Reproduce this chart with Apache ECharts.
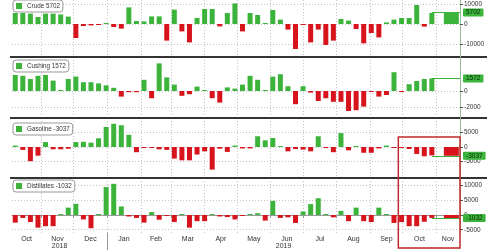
<!DOCTYPE html>
<html><head><meta charset="utf-8">
<script src="https://cdn.jsdelivr.net/npm/echarts@6/dist/echarts.min.js"></script>
<style>html,body{margin:0;padding:0;background:#fff}#c{width:500px;height:250px}</style>
</head><body><div id="c"></div>
<script>
// ---- data (weekly inventory changes, thousand barrels) ----
const crude = [5500,5500,5200,3500,5200,5200,4800,3700,-7000,-1000,-700,-300,100,-1500,-2300,8300,1500,1300,3800,3800,
  -8300,7200,-3700,-9200,3000,7500,7500,-1200,5500,10300,-3700,5500,4500,300,7000,2200,-2800,-12500,-500,-9200,
  -2800,-10500,-8300,2500,1700,-2500,-9700,-4500,-6700,800,2200,3000,3000,9500,-1300,5500];
const cushing = [2000,1900,1500,1900,2000,1300,100,1500,1800,1100,1100,950,700,400,-700,-150,-150,1400,-900,3450,
  1700,800,-600,-400,550,100,-900,-1450,450,300,800,1900,1400,50,1800,2100,600,-1650,600,-200,
  -1250,-900,-1350,-1350,-2500,-2400,-1950,-100,-700,-500,2350,-100,850,1250,1500,1572];
const gasoline = [500,-1000,-4900,-3000,1700,-800,-800,-600,1700,1800,1500,3000,6900,8000,7500,4200,-1800,-200,-200,-800,
  -1000,-4000,-4600,-4600,-2600,-1500,-7800,-600,-1700,500,-500,-500,3700,2300,3100,300,-1500,-700,-900,-1500,
  3700,-200,-1800,4800,-1150,200,-2000,-2000,-500,500,-200,-200,-700,-2400,-3200,-2900];
const distillates = [-2600,-1000,-2400,-4300,-3800,-3800,100,2500,3800,-1500,-4500,0,9500,10600,2900,-500,-1000,-2600,1000,-1600,
  -100,-2400,100,-4300,-2100,-2100,0,-500,-700,-1500,-100,0,600,-1900,4800,-1000,-800,-2700,1200,3700,
  5700,200,-800,1400,-2100,2500,-2100,-2400,2500,300,-2700,-2400,-3800,-3800,-2300,-1000];
// latest reported change (drawn as the wide right-hand bar where present)
const latest = {Crude:5702, Cushing:1572, Gasoline:-3037, Distillates:-1032};
const latestBar = {Crude:true, Cushing:false, Gasoline:true, Distillates:true};
const crudeTicks = [-10000,0,10000];
const cushingTicks = [-2000,0];
const gasolineTicks = [-5000,0,5000];
const distillatesTicks = [-5000,0,5000,10000];
const monthNames = ['Jan','Feb','Mar','Apr','May','Jun','Jul','Aug','Sep','Oct','Nov','Dec'];

// ---- dates ----
const firstWeek = Date.UTC(2018,9,8);
const latestDate = Date.UTC(2019,10,15);
const axisStart = Date.UTC(2018,9,5);
const axisEnd = Date.UTC(2019,10,23);
const DAY = 86400000;
const weeks = crude.map((_,i)=>firstWeek + i*7*DAY);

const monthStarts = [], monthMids = [];
for (let k=0;k<15;k++){
  const s = Date.UTC(2018,9+k,1), e = Date.UTC(2018,10+k,1);
  if (s>axisStart && s<axisEnd) monthStarts.push(s);
  const a = Math.max(s,axisStart), b = Math.min(e,axisEnd);
  if (b>a+5*DAY) monthMids.push((a+b)/2);
}
const yearBreak = Date.UTC(2019,0,1);
const yearMids = [(axisStart+yearBreak)/2,(yearBreak+axisEnd)/2];

const GREEN='#3cb43c', RED='#d7141c';
const FONT='Liberation Sans';

const panels = [
  {name:'Crude', values:crude, ticks:crudeTicks, min:-16500, max:12000, top:0, height:57, legTop:0},
  {name:'Cushing', values:cushing, ticks:cushingTicks, min:-3375, max:4250, top:57, height:61, legTop:60},
  {name:'Gasoline', values:gasoline, ticks:gasolineTicks, min:-10700, max:10000, top:118, height:60, legTop:123},
  {name:'Distillates', values:distillates, ticks:distillatesTicks, min:-6120, max:12580, top:178, height:55, legTop:180}
];

const grid=[], xAxis=[], yAxis=[], series=[], legend=[];
panels.forEach((p,i)=>{
  grid.push({left:12, right:40, top:p.top, height:p.height});
  const bottom = i===3;
  xAxis.push({type:'value', gridIndex:i, min:axisStart, max:axisEnd,
    axisLine:{show:bottom, lineStyle:{color:'#999'}},
    axisTick:{show:bottom, customValues:monthStarts, length:3, lineStyle:{color:'#999'}},
    axisLabel:{show:bottom, customValues:monthMids, margin:3, fontSize:7, color:'#333', fontFamily:FONT,
      formatter:v=>monthNames[new Date(v).getUTCMonth()]},
    splitLine:{show:true, lineStyle:{color:'#c4c4c4', type:[1,2], width:1}}});
  yAxis.push({type:'value', gridIndex:i, position:'right', min:p.min, max:p.max,
    axisLine:{show:true, lineStyle:{color:'#8fbf8f', width:1}},
    axisTick:{show:true, customValues:p.ticks, length:3, lineStyle:{color:'#555'}},
    axisLabel:{show:true, customValues:p.ticks, margin:4, fontSize:6.5, color:'#333', fontFamily:FONT,
      formatter:v=>String(v)},
    splitLine:{show:true, lineStyle:{color:'#c4c4c4', type:[1,2], width:1}}});
  legend.push({data:[{name:p.name, itemStyle:{color:GREEN}}], left:13, top:p.legTop, icon:'rect',
    itemWidth:6, itemHeight:6, backgroundColor:'#fff', borderColor:'#999', borderWidth:1, borderRadius:3,
    padding:[3,3], selectedMode:false, textStyle:{fontSize:6.3, color:'#333', fontFamily:FONT},
    formatter:n=>n+' '+latest[n]});
});
panels.forEach((p,i)=>{
  xAxis.push({type:'value', gridIndex:i, min:axisStart, max:axisEnd, show:false});
});
xAxis.push({type:'value', gridIndex:3, position:'bottom', min:axisStart, max:axisEnd,
  axisLine:{show:false}, splitLine:{show:false},
  axisTick:{show:true, customValues:[yearBreak], length:17, lineStyle:{color:'#999'}},
  axisLabel:{show:true, customValues:yearMids, margin:10, fontSize:7, color:'#333', fontFamily:FONT,
    formatter:v=>String(new Date(v).getUTCFullYear())}});

panels.forEach((p,i)=>{
  const v = latest[p.name];
  series.push({name:p.name, type:'bar', xAxisIndex:i, yAxisIndex:i, barWidth:5, barMinHeight:1,
    data:weeks.map((d,j)=>[d,p.values[j]]),
    itemStyle:{color:pr=>pr.value[1]>=0?GREEN:RED}, silent:true, z:2,
    markLine:{silent:true, symbol:'none', animation:false, z:5,
      lineStyle:{color:GREEN, width:1, type:'solid'},
      label:{show:true, position:'end', distance:3, formatter:()=>String(v), backgroundColor:GREEN,
        color:'#0a2a0a', fontSize:6.5, fontFamily:FONT, padding:[1,3,0,3], borderRadius:1},
      data:[[{coord:[weeks[weeks.length-1], v]},{coord:[axisEnd, v]}]]}});
  if (latestBar[p.name]) {
    series.push({name:p.name+' latest', type:'bar', xAxisIndex:4+i, yAxisIndex:i, barWidth:15,
      data:[[latestDate,v]], itemStyle:{color:v>=0?GREEN:RED}, silent:true, z:3});
  }
});

const chart = echarts.init(document.getElementById('c'), null, {renderer:'canvas'});
chart.setOption({animation:false, grid, xAxis, yAxis, series, legend});

const rectLeft = chart.convertToPixel({xAxisIndex:2}, Date.UTC(2019,8,27));
const rectRight = chart.convertToPixel({xAxisIndex:2}, axisEnd);
chart.setOption({graphic:[
  {type:'line', shape:{x1:10,y1:57,x2:487,y2:57}, style:{stroke:'#333', lineWidth:2}, silent:true},
  {type:'line', shape:{x1:10,y1:118,x2:487,y2:118}, style:{stroke:'#333', lineWidth:2}, silent:true},
  {type:'line', shape:{x1:10,y1:178,x2:487,y2:178}, style:{stroke:'#333', lineWidth:2}, silent:true},
  {type:'rect', shape:{x:rectLeft, y:137, width:rectRight-rectLeft, height:111},
    style:{fill:'none', stroke:'#c0282d', lineWidth:1.5}, silent:true, z:100}
]});
</script></body></html>
